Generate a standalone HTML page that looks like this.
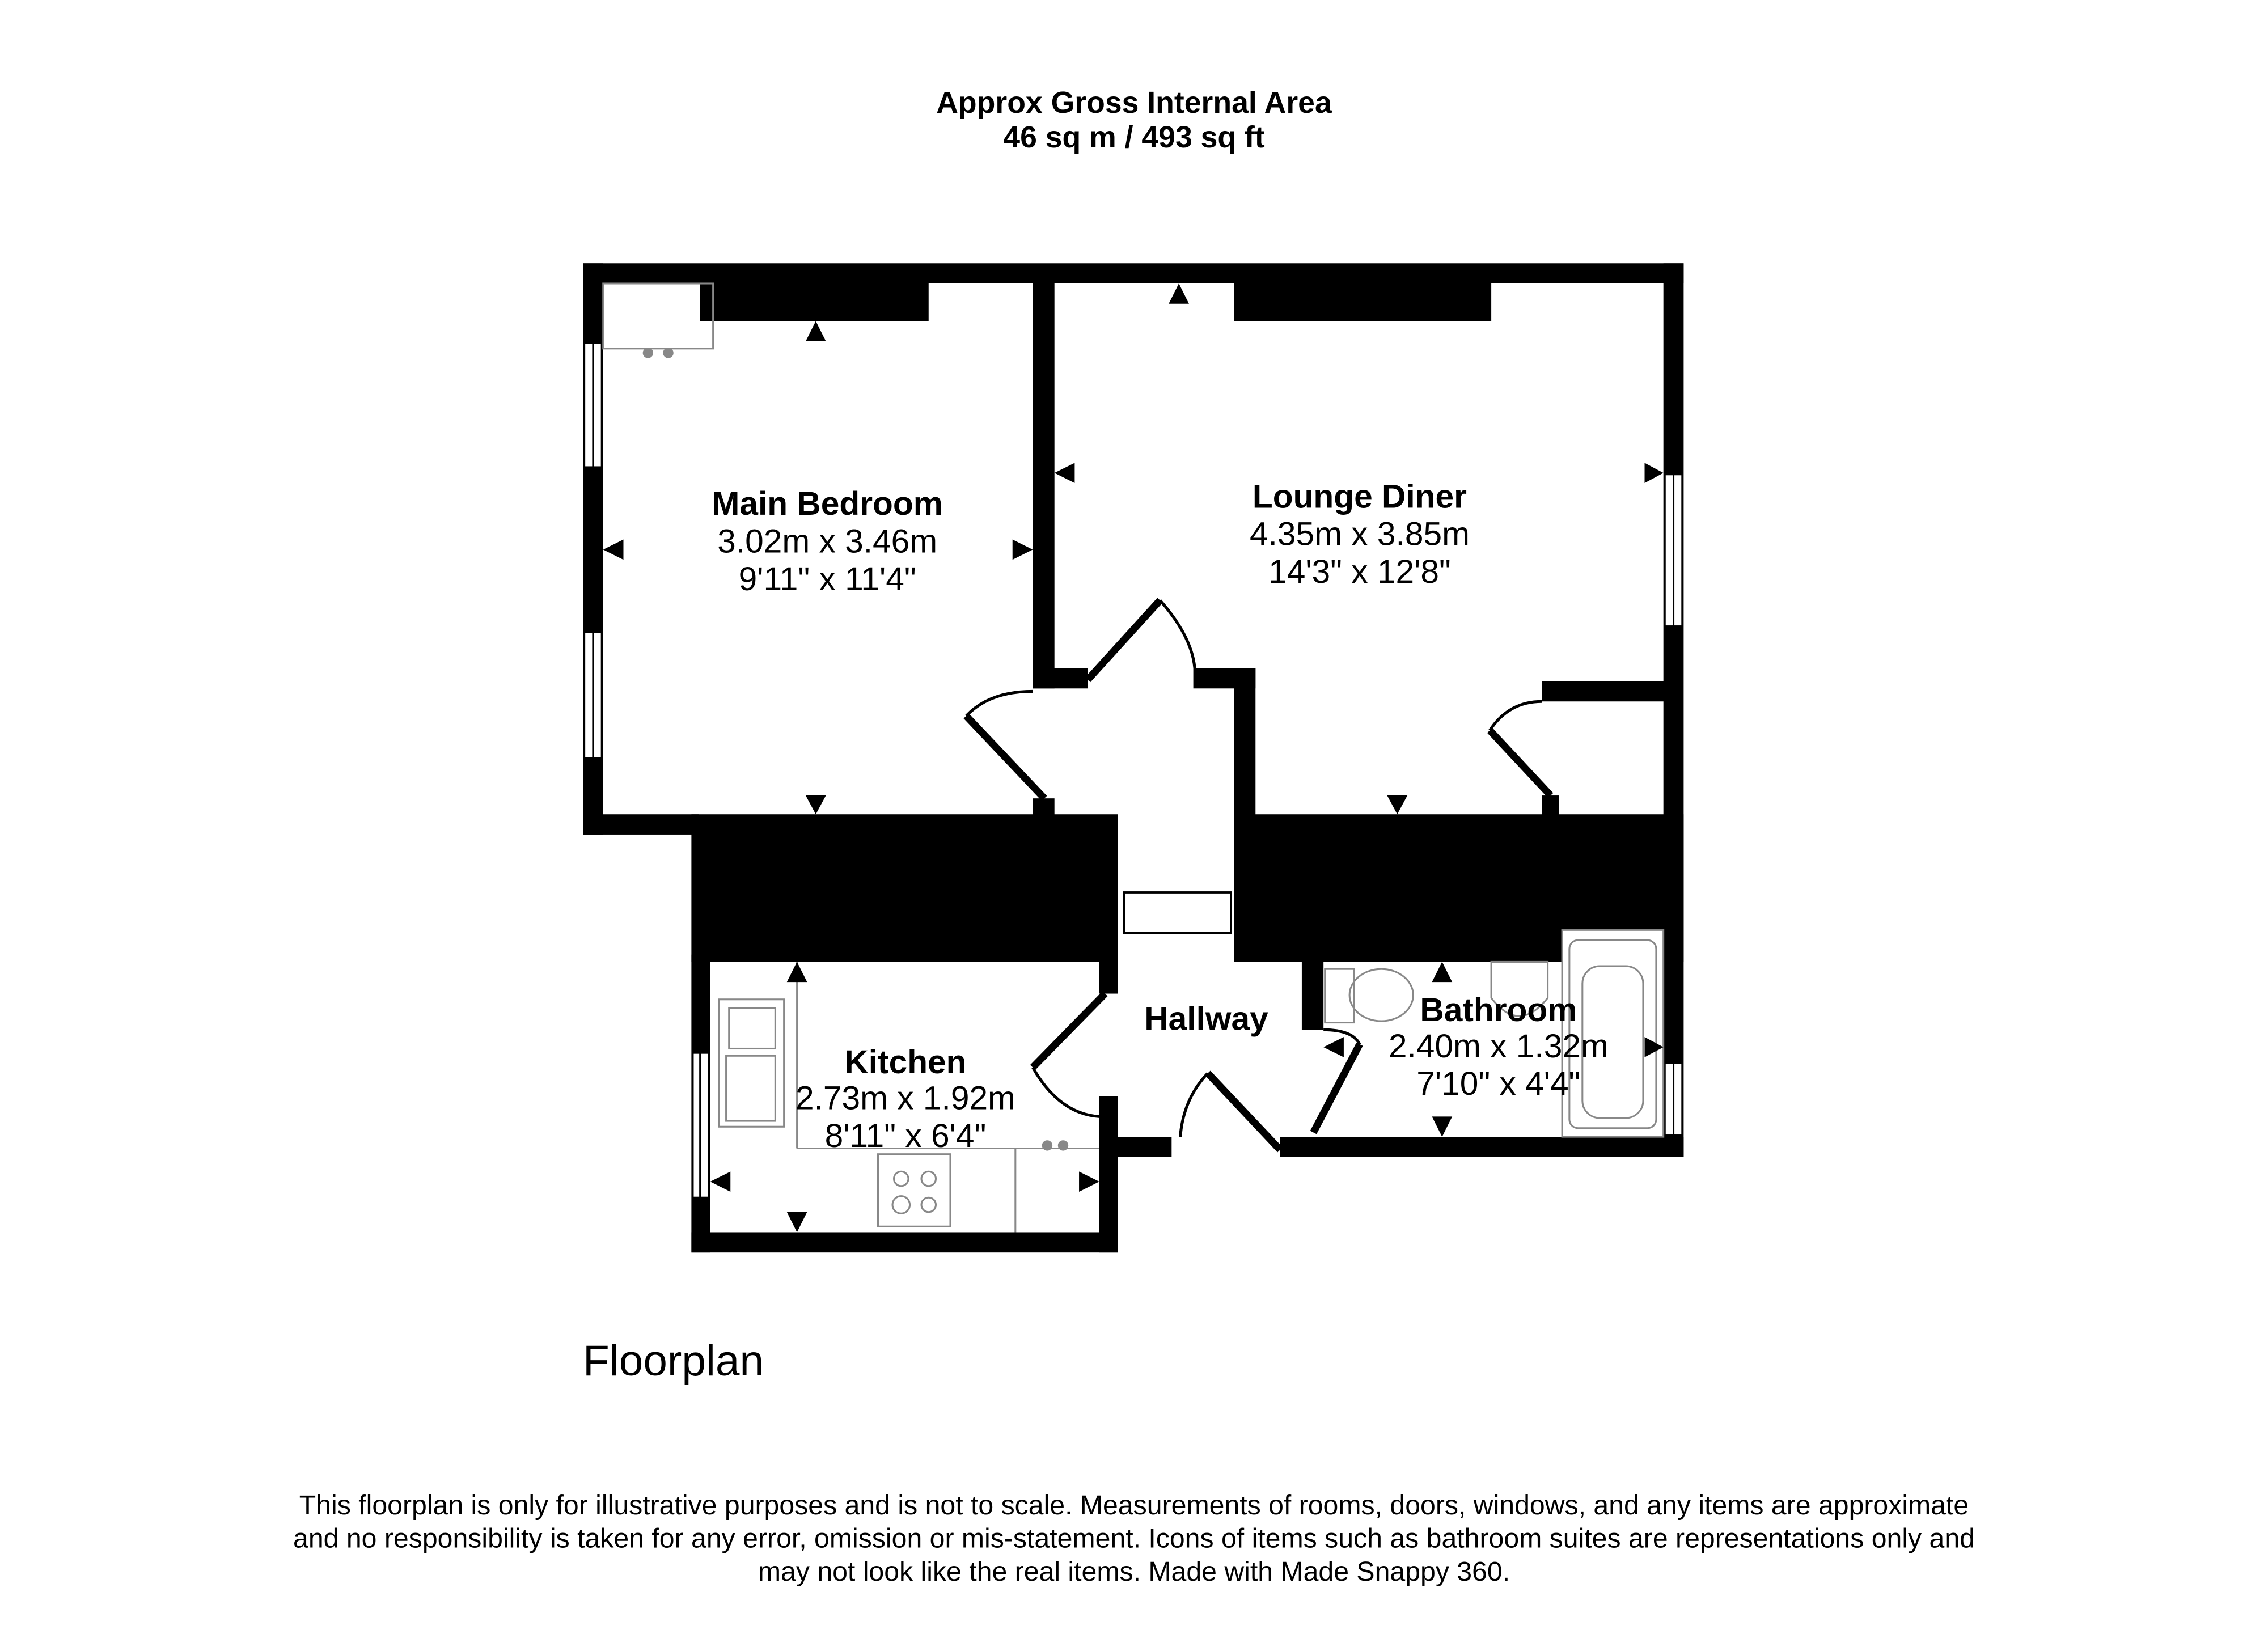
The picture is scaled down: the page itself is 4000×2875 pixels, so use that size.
<!DOCTYPE html>
<html><head><meta charset="utf-8"><style>
html,body{margin:0;padding:0;background:#fff;}
svg{display:block;}
text{font-family:"Liberation Sans",Arial,sans-serif;fill:#000;}
</style></head><body>
<svg width="4000" height="2875" viewBox="0 0 1568 1127" preserveAspectRatio="none" xmlns="http://www.w3.org/2000/svg">
<rect width="1568" height="1127" fill="#fff"/>
<text x="784" y="78" font-size="21" font-weight="bold" text-anchor="middle">Approx Gross Internal Area</text>
<text x="784" y="102" font-size="21" font-weight="bold" text-anchor="middle">46 sq m / 493 sq ft</text>

<g fill="#000">
<rect x="403" y="182" width="761" height="14"/>
<rect x="403" y="182" width="14" height="395"/>
<rect x="1150" y="182" width="14" height="618"/>
<rect x="403" y="563" width="80" height="14"/>
<rect x="478" y="563" width="295" height="102"/>
<rect x="853" y="563" width="311" height="102"/>
<rect x="484" y="196" width="158" height="26"/>
<rect x="853" y="196" width="178" height="26"/>
<rect x="714" y="196" width="15" height="280"/>
<rect x="714" y="462" width="38" height="14"/>
<rect x="714" y="552" width="15" height="14"/>
<rect x="853" y="462" width="15" height="110"/>
<rect x="825" y="462" width="43" height="14"/>
<rect x="1066" y="471" width="90" height="14"/>
<rect x="1066" y="550" width="12" height="15"/>
<rect x="478" y="660" width="13" height="206"/>
<rect x="478" y="852" width="295" height="14"/>
<rect x="760" y="758" width="13" height="108"/>
<rect x="760" y="640" width="13" height="47"/>
<rect x="760" y="786" width="50" height="14"/>
<rect x="900" y="660" width="15" height="52"/>
<rect x="885" y="786" width="279" height="14"/>
</g>
<rect x="777" y="617" width="74" height="28" fill="#fff" stroke="#000" stroke-width="1.5"/>
<rect x="773" y="646" width="80" height="19" fill="#fff"/>
<g fill="#fff" stroke="#000" stroke-width="1.2">
<rect x="404" y="237" width="12" height="86"/><line x1="410" y1="237" x2="410" y2="323"/>
<rect x="404" y="437" width="12" height="87"/><line x1="410" y1="437" x2="410" y2="524"/>
<rect x="1151" y="328" width="12" height="105"/><line x1="1157" y1="328" x2="1157" y2="433"/>
<rect x="1151" y="735" width="12" height="50"/><line x1="1157" y1="735" x2="1157" y2="785"/>
<rect x="479" y="728" width="11" height="100"/><line x1="484" y1="728" x2="484" y2="828"/>
</g>
<rect x="1080" y="643" width="70" height="143" fill="#fff" stroke="#888" stroke-width="1.2"/>
<rect x="1085" y="650" width="60" height="130" fill="none" stroke="#888" stroke-width="1.2" rx="6"/>
<rect x="1094" y="668" width="42" height="105" fill="none" stroke="#888" stroke-width="1.2" rx="12"/>
<g stroke="#000" fill="none">
<line x1="668" y1="495" x2="722" y2="552" stroke-width="5"/>
<path d="M668 495 Q684 478 714 478" stroke-width="2"/>
<line x1="752" y1="470" x2="802" y2="415" stroke-width="5"/>
<path d="M802 415 Q824 440 826 462" stroke-width="2"/>
<line x1="1030" y1="505" x2="1072" y2="550" stroke-width="5"/>
<path d="M1030 505 Q1043 485 1066 485" stroke-width="2"/>
<line x1="714" y1="738" x2="764" y2="687" stroke-width="5"/>
<path d="M714 738 Q732 770 760 772" stroke-width="2"/>
<line x1="835" y1="742" x2="885" y2="795" stroke-width="5"/>
<path d="M835 742 Q818 760 816 786" stroke-width="2"/>
<line x1="940" y1="722" x2="908" y2="783" stroke-width="5"/>
<path d="M915 712 Q935 712 940 722" stroke-width="2"/>
</g>
<g fill="none" stroke="#888" stroke-width="1.2">
<rect x="417" y="196" width="76" height="45"/>
<circle cx="448" cy="244" r="3" fill="#888"/><circle cx="462" cy="244" r="3" fill="#888"/>
<rect x="497" y="691" width="45" height="88"/>
<rect x="504" y="697" width="32" height="28"/>
<rect x="502" y="730" width="34" height="45"/>
<line x1="551" y1="665" x2="551" y2="794"/>
<line x1="551" y1="794" x2="760" y2="794"/>
<rect x="607" y="798" width="50" height="50"/>
<circle cx="623" cy="815" r="5"/><circle cx="642" cy="815" r="5"/>
<circle cx="623" cy="833" r="6"/><circle cx="642" cy="833" r="5"/>
<line x1="702" y1="794" x2="702" y2="852"/>
<circle cx="724" cy="792" r="3" fill="#888"/><circle cx="735" cy="792" r="3" fill="#888"/>
<rect x="916" y="670" width="20" height="37"/>
<ellipse cx="955" cy="688" rx="22" ry="18"/>
<path d="M1031 665 L1031 690 Q1050 715 1070 690 L1070 665 Z"/>
</g>
<g fill="#000">
<polygon points="557,236 571,236 564,222"/>
<polygon points="557,550 571,550 564,563"/>
<polygon points="431,373 431,387 417,380"/>
<polygon points="700,373 700,387 714,380"/>
<polygon points="808,210 822,210 815,196"/>
<polygon points="743,320 743,334 729,327"/>
<polygon points="1137,320 1137,334 1150,327"/>
<polygon points="959,550 973,550 966,563"/>
<polygon points="544,679 558,679 551,665"/>
<polygon points="544,838 558,838 551,852"/>
<polygon points="505,810 505,824 491,817"/>
<polygon points="746,810 746,824 760,817"/>
<polygon points="990,679 1004,679 997,665"/>
<polygon points="990,772 1004,772 997,786"/>
<polygon points="929,717 929,731 915,724"/>
<polygon points="1137,717 1137,731 1150,724"/>
</g>
<g text-anchor="middle" font-size="23">
<text x="572" y="356" font-weight="bold">Main Bedroom</text>
<text x="572" y="382">3.02m x 3.46m</text>
<text x="572" y="408">9'11" x 11'4"</text>
<text x="940" y="351" font-weight="bold">Lounge Diner</text>
<text x="940" y="377">4.35m x 3.85m</text>
<text x="940" y="403">14'3" x 12'8"</text>
<text x="834" y="712" font-weight="bold">Hallway</text>
<text x="626" y="742" font-weight="bold">Kitchen</text>
<text x="626" y="767">2.73m x 1.92m</text>
<text x="626" y="793">8'11" x 6'4"</text>
<text x="1036" y="706" font-weight="bold">Bathroom</text>
<text x="1036" y="731">2.40m x 1.32m</text>
<text x="1036" y="757">7'10" x 4'4"</text>
</g>
<text x="403" y="951" font-size="30">Floorplan</text>
<g text-anchor="middle" font-size="18.9">
<text x="784" y="1047">This floorplan is only for illustrative purposes and is not to scale. Measurements of rooms, doors, windows, and any items are approximate</text>
<text x="784" y="1070">and no responsibility is taken for any error, omission or mis-statement. Icons of items such as bathroom suites are representations only and</text>
<text x="784" y="1093">may not look like the real items. Made with Made Snappy 360.</text>
</g>
</svg>
</body></html>
